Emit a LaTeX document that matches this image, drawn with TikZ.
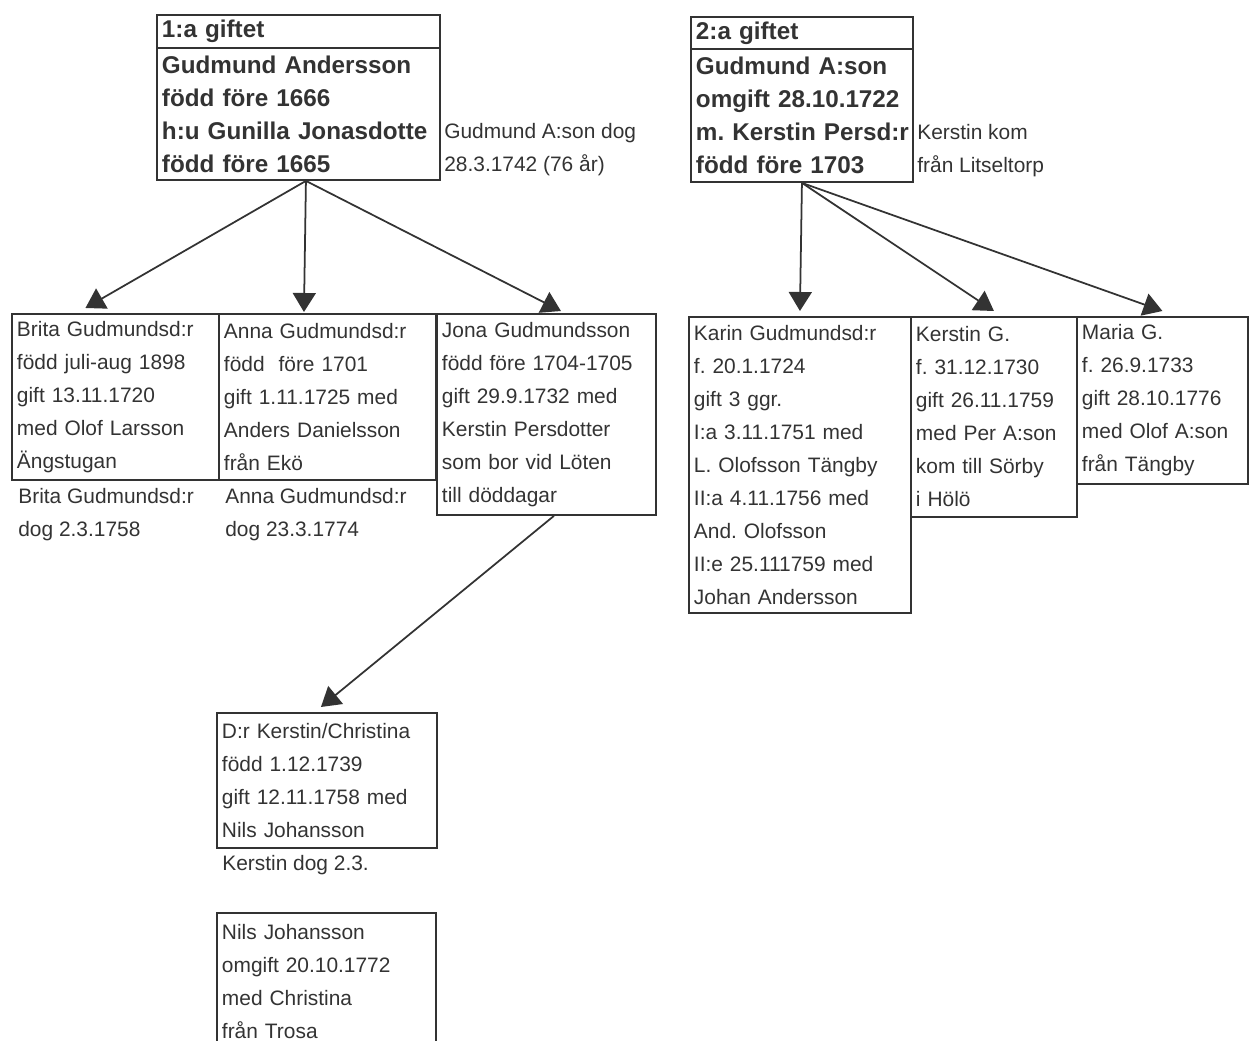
\documentclass[tikz,border=0pt]{standalone}
\usepackage{fontspec}
\setmainfont{Liberation Sans}
\usetikzlibrary{arrows.meta}
\definecolor{ink}{HTML}{333333}
\frenchspacing
\tikzset{
    box/.style={draw=ink, line width=1.1pt, anchor=north west, align=left,
        inner xsep=0.1cm, inner ysep=0pt, text=ink,
        font=\fontsize{11.9}{18.8}\selectfont},
    boldbox/.style={box, font=\bfseries\fontsize{13.8}{18.8}\selectfont},
    note/.style={anchor=west, align=left, inner xsep=0.1cm, text=ink,
        font=\fontsize{11.9}{18.8}\selectfont},
    kid/.style={draw=ink, line width=1pt, -{Triangle[length=0.38cm, width=0.46cm]}},
}

\begin{document}
\begin{tikzpicture}[x=0.02cm, y=-0.02cm]
    \useasboundingbox (0,0) rectangle (1249,1041);
    % first marriage
    \node[boldbox, text width=5.46cm, minimum height=0.66cm] (head1) at (156,14) {1:a giftet};
    \node[boldbox, text width=5.46cm, minimum height=2.64cm] (first) at (156,47)
        {Gudmund Andersson\\ född före 1666\\ \mbox{h:u Gunilla Jonasdotte}\\ född före 1665};
    \node[note] (note1) at (439,149.5) {Gudmund A:son dog\\ 28.3.1742 (76 år)};
    % second marriage
    \node[boldbox, text width=4.24cm, minimum height=0.64cm] (head2) at (690,16) {2:a giftet};
    \node[boldbox, text width=4.24cm, minimum height=2.66cm] (second) at (690,48)
        {Gudmund A:son\\ omgift 28.10.1722\\ \mbox{m. Kerstin Persd:r}\\ född före 1703};
    \node[note] (note2) at (912,150.5) {Kerstin kom\\ från Litseltorp};

    \node[box, text width=3.94cm, minimum height=3.32cm] (brita) at (11,313)
        {Brita Gudmundsd:r\\ född juli-aug 1898\\ gift 13.11.1720\\ med Olof Larsson\\ Ängstugan};
    \node[box, text width=4.14cm, minimum height=3.32cm] (anna) at (218,313)
        {Anna Gudmundsd:r\\ född \ före 1701\\ gift 1.11.1725 med\\ Anders Danielsson\\ från Ekö};
    \node[box, text width=4.18cm, minimum height=4.02cm] (jona) at (436,313)
        {Jona Gudmundsson\\ född före 1704-1705\\ gift 29.9.1732 med\\ Kerstin Persdotter\\ som bor vid Löten\\ till döddagar};
    \node[note] (britadog) at (13,515) {Brita Gudmundsd:r\\ dog 2.3.1758};
    \node[note] (annadog) at (220,515) {Anna Gudmundsd:r\\ dog 23.3.1774};

    \node[box, text width=4.24cm, minimum height=5.92cm] (karin) at (688,316)
        {Karin Gudmundsd:r\\ f. 20.1.1724\\ gift 3 ggr.\\ I:a 3.11.1751 med\\ L. Olofsson Tängby\\ II:a 4.11.1756 med\\ And. Olofsson\\ II:e 25.111759 med\\ Johan Andersson};
    \node[box, text width=3.12cm, minimum height=4.0cm] (kerstin) at (910,316)
        {Kerstin G.\\ f. 31.12.1730\\ gift 26.11.1759\\ med Per A:son\\ kom till Sörby\\ i Hölö};
    \node[box, text width=3.22cm, minimum height=3.34cm] (maria) at (1076,316)
        {Maria G.\\ f. 26.9.1733\\ gift 28.10.1776\\ med Olof A:son\\ från Tängby};

    \node[box, text width=4.2cm, minimum height=2.7cm] (dotter) at (216,712)
        {D:r Kerstin/Christina\\ född 1.12.1739\\ gift 12.11.1758 med\\ Nils Johansson};
    \node[note] (dotterdog) at (217,865) {Kerstin dog 2.3.};
    \node[box, text width=4.18cm, minimum height=2.76cm] (nils) at (216,912)
        {Nils Johansson\\ omgift 20.10.1772\\ med Christina\\ från Trosa};

    \draw[kid] ([xshift=0.15cm]first.south) -- ([xshift=-0.6cm,yshift=0.1cm]brita.north);
    \draw[kid] ([xshift=0.15cm]first.south) -- ([xshift=-0.47cm,yshift=0.02cm]anna.north);
    \draw[kid] ([xshift=0.15cm]first.south) -- ([xshift=0.29cm,yshift=0.04cm]jona.north);
    \draw[kid] (second.south) -- ([yshift=0.1cm]karin.north);
    \draw[kid] (second.south) -- ([yshift=0.1cm]kerstin.north);
    \draw[kid] (second.south) -- ([yshift=0.1cm]maria.north);
    \draw[kid] ([xshift=0.15cm]jona.south) -- ([xshift=-0.12cm,yshift=0.1cm]dotter.north);
\end{tikzpicture}
\end{document}
